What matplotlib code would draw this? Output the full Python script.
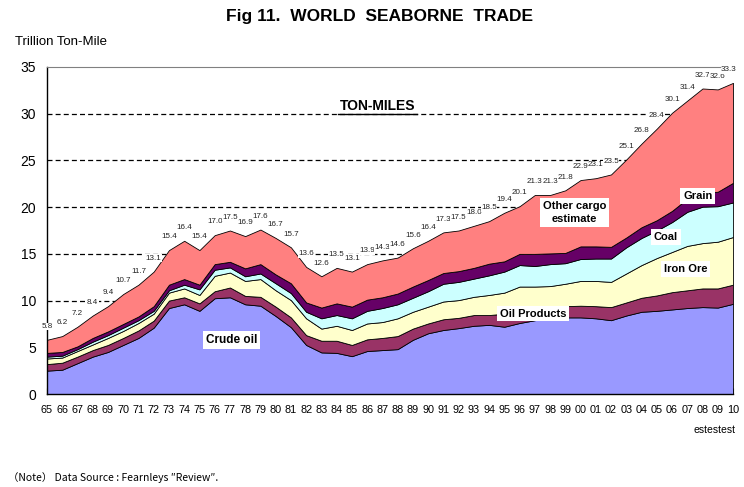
import numpy as np
import matplotlib
matplotlib.use("Agg")
import matplotlib.pyplot as plt

plt.rcParams['font.family'] = ['Liberation Sans', 'DejaVu Sans']

# years 1965-2010, two-digit labels
years = ['65', '66', '67', '68', '69', '70', '71', '72', '73', '74', '75', '76', '77', '78', '79',
         '80', '81', '82', '83', '84', '85', '86', '87', '88', '89', '90', '91', '92', '93', '94',
         '95', '96', '97', '98', '99', '00', '01', '02', '03', '04', '05', '06', '07', '08', '09', '10']

# total ton-miles (trillion), as labelled on the chart
total = [5.8, 6.2, 7.2, 8.4, 9.4, 10.7, 11.7, 13.1, 15.4, 16.4, 15.4, 17.0, 17.5, 16.9, 17.6,
         16.7, 15.7, 13.6, 12.6, 13.5, 13.1, 13.9, 14.3, 14.6, 15.6, 16.4, 17.3, 17.5, 18.0, 18.5,
         19.4, 20.1, 21.3, 21.3, 21.8, 22.9, 23.1, 23.5, 25.1, 26.8, 28.4, 30.1, 31.4, 32.7, 32.6, 33.3]

# per-cargo values
crude = [2.5, 2.6, 3.3, 4.0, 4.5, 5.25, 6.0, 7.1, 9.2, 9.6, 8.9, 10.25, 10.35, 9.6, 9.45,
         8.35, 7.15, 5.25, 4.45, 4.4, 4.05, 4.6, 4.7, 4.8, 5.8, 6.5, 6.85, 7.05, 7.3, 7.4,
         7.2, 7.6, 7.9, 8.1, 8.2, 8.2, 8.1, 7.9, 8.4, 8.8, 8.9, 9.05, 9.2, 9.3, 9.25, 9.65]
products = [0.7, 0.75, 0.7, 0.7, 0.75, 0.75, 0.8, 0.75, 0.8, 0.75, 0.8, 0.75, 1.05, 0.9, 0.95,
            1.0, 1.05, 1.05, 1.25, 1.3, 1.2, 1.25, 1.3, 1.4, 1.2, 1.05, 1.15, 1.1, 1.15, 1.05,
            1.4, 1.3, 1.3, 1.25, 1.2, 1.25, 1.3, 1.4, 1.4, 1.5, 1.65, 1.85, 1.9, 2.0, 2.05, 2.05]
iron_ore = [0.6, 0.55, 0.6, 0.6, 0.75, 0.75, 0.8, 0.75, 0.85, 0.95, 0.9, 1.65, 1.6, 1.6, 1.9,
            1.75, 1.85, 1.8, 1.3, 1.6, 1.6, 1.7, 1.7, 1.9, 1.8, 1.8, 1.9, 1.9, 1.95, 2.15,
            2.25, 2.6, 2.3, 2.2, 2.4, 2.65, 2.7, 2.7, 3.1, 3.5, 4.0, 4.3, 4.75, 4.85, 5.0, 5.1]
coal = [0.2, 0.2, 0.2, 0.3, 0.3, 0.35, 0.3, 0.3, 0.25, 0.4, 0.6, 0.65, 0.55, 0.5, 0.6,
        0.75, 0.75, 0.7, 1.1, 1.15, 1.25, 1.35, 1.5, 1.5, 1.5, 1.65, 1.9, 1.95, 1.95, 2.1,
        2.25, 2.3, 2.2, 2.35, 2.2, 2.35, 2.4, 2.5, 2.8, 2.9, 2.95, 3.2, 3.65, 3.9, 3.8, 3.7]
grain = [0.4, 0.4, 0.3, 0.4, 0.4, 0.4, 0.4, 0.5, 0.6, 0.6, 0.5, 0.6, 0.6, 0.85, 1.0,
         0.95, 1.05, 1.0, 1.15, 1.25, 1.25, 1.2, 1.15, 1.15, 1.2, 1.2, 1.15, 1.15, 1.15, 1.25,
         1.1, 1.2, 1.3, 1.15, 1.1, 1.35, 1.3, 1.25, 1.05, 1.15, 1.1, 1.2, 1.4, 1.45, 1.55, 2.1]

colors = ['#9999FF', '#993366', '#FFFFCC', '#CCFFFF', '#660066', '#FF8080']

x = np.arange(len(years))
parts = np.array([crude, products, iron_ore, coal, grain])
other = np.array(total) - parts.sum(axis=0)

fig = plt.figure(figsize=(7.44, 4.87), dpi=100)
ax = fig.add_axes([47 / 744, 1 - 394 / 487, 686 / 744, 327 / 487])

# dashed grid behind the areas
for v in range(5, 35, 5):
    ax.axhline(v, color='black', lw=0.9, ls=(0, (4, 2.5)), zorder=0)

ax.stackplot(x, *parts, other, colors=colors, edgecolor='black', linewidth=0.6, zorder=2)

for xi, t in zip(x, total):
    dx = -3 if xi == len(years) - 1 else 0
    ax.annotate(f'{t:.1f}', (xi, t), xytext=(dx, 7), textcoords='offset points',
                ha='center', va='bottom', fontsize=5.8, color='#222222', zorder=5,
                bbox=dict(boxstyle='square,pad=0.05', fc='white', ec='none'))

ax.set_xlim(0, len(years) - 1)
ax.set_ylim(0, 35)
ax.set_yticks(range(0, 36, 5))
ax.set_xticks(x)
ax.set_xticklabels(years, fontsize=7.8)
ax.tick_params(axis='x', direction='in', length=4, width=0.8, pad=8)
ax.tick_params(axis='y', length=0, labelsize=10, pad=8)

ax.spines['right'].set_visible(False)
ax.spines['top'].set_color('#808080')
for s in ['left', 'bottom']:
    ax.spines[s].set_linewidth(1.0)

box = dict(boxstyle='square,pad=0.25', fc='white', ec='none')
ax.text(12.1, 5.8, 'Crude oil', fontsize=8.5, fontweight='bold', ha='center', va='center', bbox=box, zorder=6)
ax.text(31.9, 8.6, 'Oil Products', fontsize=8, fontweight='bold', ha='center', va='center', bbox=box, zorder=6)
ax.text(34.6, 19.4, 'Other cargo\nestimate', fontsize=8, fontweight='bold', ha='center', va='center',
        bbox=box, linespacing=1.4, zorder=6)
ax.text(41.9, 13.4, 'Iron Ore', fontsize=8, fontweight='bold', ha='center', va='center', bbox=box, zorder=6)
ax.text(40.6, 16.8, 'Coal', fontsize=8, fontweight='bold', ha='center', va='center', bbox=box, zorder=6)
ax.text(42.7, 21.2, 'Grain', fontsize=8, fontweight='bold', ha='center', va='center', bbox=box, zorder=6)
ax.text(21.7, 30.8, 'TON-MILES', fontsize=10, fontweight='bold', ha='center', va='center', zorder=6)
ax.plot([19.1, 24.3], [30.0, 30.0], color='black', lw=1.0, zorder=6)

fig.text(380 / 744, 1 - 16 / 487, 'Fig 11.  WORLD  SEABORNE  TRADE', fontsize=12.5, fontweight='bold',
         ha='center', va='center')
fig.text(15 / 744, 1 - 42 / 487, 'Trillion Ton-Mile', fontsize=9.5, ha='left', va='center')
fig.text(736 / 744, 1 - 430 / 487, 'estestest', fontsize=7.5, ha='right', va='center')
fig.text(8 / 744, 1 - 478 / 487, '（Note） Data Source : Fearnleys ″Review″.', fontsize=7.5,
         ha='left', va='center', family=['Noto Sans CJK JP', 'DejaVu Sans'])

fig.savefig('out.png', dpi=100)
